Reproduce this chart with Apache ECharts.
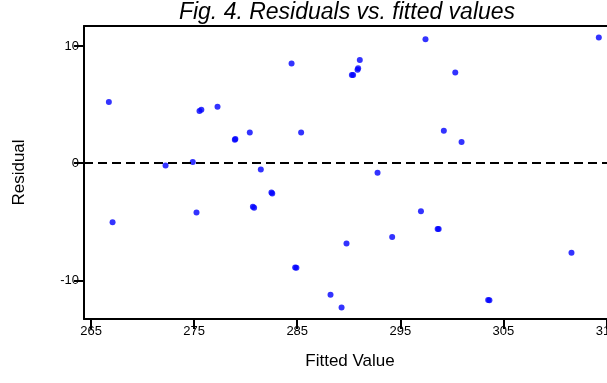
<!DOCTYPE html>
<html>
<head>
<meta charset="utf-8">
<script src="https://cdn.jsdelivr.net/npm/echarts@6/dist/echarts.min.js"></script>
<style>
  html, body { margin: 0; padding: 0; background: #fff; }
  #chart { width: 607px; height: 383px; }
</style>
</head>
<body>
<div id="chart"></div>
<script>
  // fitted values and residuals
  var fitted = [
    266.73, 267.09, 272.23, 274.87, 275.23, 275.52, 275.70, 277.27, 278.95, 279.0,
    280.40, 280.70, 280.82, 281.47, 282.50, 282.58, 284.45, 284.80, 284.92, 285.38,
    288.23, 289.30, 289.78, 290.30, 290.42, 290.85, 290.91, 291.07, 292.79, 294.21,
    297.00, 297.44, 298.62, 298.72, 299.22, 300.33, 300.94, 303.52, 303.64, 311.60,
    314.25
  ];
  var residual = [
    5.21, -5.04, -0.19, 0.10, -4.21, 4.45, 4.55, 4.81, 2.00, 2.06,
    2.62, -3.72, -3.80, -0.53, -2.50, -2.58, 8.50, -8.88, -8.90, 2.62,
    -11.22, -12.30, -6.85, 7.53, 7.53, 7.98, 8.10, 8.81, -0.81, -6.28,
    -4.10, 10.57, -5.60, -5.60, 2.77, 7.73, 1.80, -11.65, -11.69, -7.64,
    10.71
  ];
  var xTicks = [265, 275, 285, 295, 305, 315];
  var yTicks = [-10, 0, 10];

  var points = fitted.map(function (v, i) { return [v, residual[i]]; });

  var font = 'Liberation Sans, Arial, sans-serif';
  var xMin = 264.32, xMax = 316.5;
  var myChart = echarts.init(document.getElementById('chart'));
  var option = {
    animation: false,
    title: {
      text: 'Fig. 4. Residuals vs. fitted values',
      left: 347,
      textAlign: 'center',
      top: 1,
      padding: 0,
      textStyle: {
        fontFamily: font,
        fontStyle: 'italic',
        fontWeight: 'normal',
        fontSize: 23,
        color: '#000'
      }
    },
    grid: {
      left: 84,
      right: -15,
      top: 26,
      bottom: 64,
      outerBoundsMode: 'none',
      containLabel: false
    },
    xAxis: [{
      type: 'value',
      min: xMin,
      max: xMax,
      name: 'Fitted Value',
      nameLocation: 'middle',
      nameGap: 34,
      nameTextStyle: {
        fontFamily: font,
        fontSize: 17,
        color: '#000',
        padding: [0, 6, 0, 0]
      },
      splitLine: { show: false },
      axisLine: { show: true, onZero: false, lineStyle: { color: '#000', width: 2 } },
      axisTick: {
        show: true,
        length: 10,
        customValues: xTicks,
        lineStyle: { color: '#000', width: 2 }
      },
      axisLabel: {
        customValues: xTicks,
        margin: 6,
        fontFamily: font,
        fontSize: 13,
        color: '#000'
      }
    }, {
      // top frame line only
      type: 'value',
      position: 'top',
      min: xMin,
      max: xMax,
      splitLine: { show: false },
      axisLine: { show: true, onZero: false, lineStyle: { color: '#000', width: 2 } },
      axisTick: { show: false },
      axisLabel: { show: false }
    }],
    yAxis: {
      type: 'value',
      min: -13.28,
      max: 11.7,
      name: 'Residual',
      nameLocation: 'middle',
      nameGap: 56,
      nameTextStyle: {
        fontFamily: font,
        fontSize: 17,
        color: '#000'
      },
      splitLine: { show: false },
      axisLine: { show: true, onZero: false, lineStyle: { color: '#000', width: 2 } },
      axisTick: {
        show: true,
        length: 10,
        customValues: yTicks,
        lineStyle: { color: '#000', width: 2 }
      },
      axisLabel: {
        customValues: yTicks,
        margin: 5,
        fontFamily: font,
        fontSize: 13,
        color: '#000'
      }
    },
    series: [{
      type: 'scatter',
      data: points,
      symbol: 'circle',
      symbolSize: 6,
      itemStyle: { color: '#0000ff' },
      markLine: {
        silent: true,
        symbol: 'none',
        label: { show: false },
        lineStyle: { color: '#000', width: 2, type: [9, 5] },
        data: [{ yAxis: 0 }]
      }
    }]
  };
  myChart.setOption(option);
</script>
</body>
</html>
